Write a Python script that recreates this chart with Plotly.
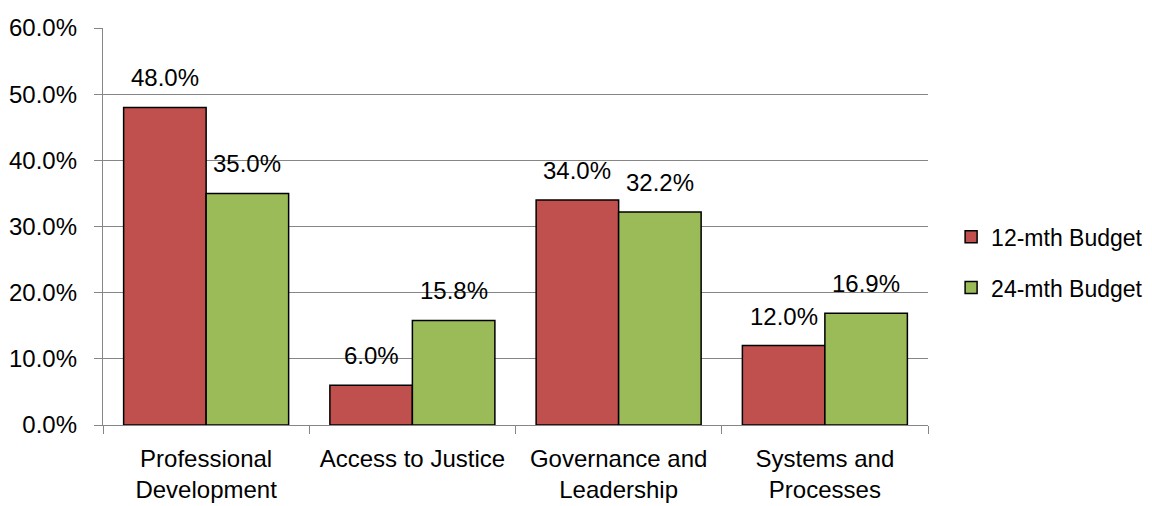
import plotly.graph_objects as go

categories = ["Professional<br>Development", "Access to Justice", "Governance and<br>Leadership", "Systems and<br>Processes"]
series_names = ["12-mth Budget", "24-mth Budget"]
budget_12 = [48.0, 6.0, 34.0, 12.0]
budget_24 = [35.0, 15.8, 32.2, 16.9]
y_ticks = [0, 10, 20, 30, 40, 50, 60]
y_tick_labels = ["0.0%", "10.0%", "20.0%", "30.0%", "40.0%", "50.0%", "60.0%"]
colors = ["#C0504D", "#9BBB59"]

FONT = "Liberation Sans, Arial, sans-serif"
FS = 24

fig = go.Figure()
for i, (name, vals) in enumerate(zip(series_names, [budget_12, budget_24])):
    fig.add_trace(go.Bar(
        x=categories, y=vals, name=name,
        marker=dict(color=colors[i], line=dict(color="black", width=1.5)),
        legendgroup=name,
    ))

annotations = []
for i, vals in enumerate([budget_12, budget_24]):
    shift = -41.25 if i == 0 else 41.25
    for c, v in zip(categories, vals):
        annotations.append(dict(
            x=c, y=v, xref="x", yref="y", text=f"{v:.1f}%", showarrow=False,
            xshift=shift, yanchor="bottom", yshift=14,
            font=dict(family=FONT, size=FS, color="black"),
        ))

fig.update_layout(
    width=1144, height=498,
    margin=dict(l=95, r=224, t=20, b=81, autoexpand=False),
    paper_bgcolor="white", plot_bgcolor="white",
    barmode="group", bargap=0.2, bargroupgap=0,
    font=dict(family=FONT, size=FS, color="black"),
    annotations=annotations,
    showlegend=True,
    legend=dict(x=1.028, xanchor="left", y=0.41, yanchor="middle",
                font=dict(family=FONT, size=23, color="black"),
                traceorder="grouped", tracegroupgap=18,
                itemwidth=30, bgcolor="rgba(0,0,0,0)"),
    xaxis=dict(showline=True, linecolor="#868686", linewidth=1.3,
               ticks="outside", ticklen=8, tickcolor="#868686",
               tickson="boundaries", showgrid=False, tickangle=0,
               automargin=False, ticklabelstandoff=12,
               tickfont=dict(family=FONT, size=FS, color="black")),
    yaxis=dict(range=[0, 60], tickvals=y_ticks, ticktext=y_tick_labels,
               showline=True, linecolor="#868686", linewidth=1.3,
               ticks="outside", ticklen=8, tickcolor="#868686",
               showgrid=True, gridcolor="#868686", gridwidth=1,
               zeroline=False, automargin=False, ticklabelstandoff=12,
               tickfont=dict(family=FONT, size=FS, color="black")),
)

fig.write_html("out.html")
